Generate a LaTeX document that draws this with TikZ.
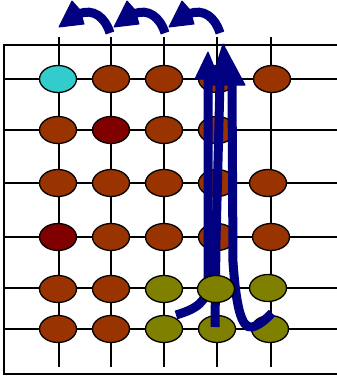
\documentclass[tikz,border=0pt]{standalone}
\usetikzlibrary{shapes.geometric}
\definecolor{brn}{HTML}{993300}
\definecolor{drd}{HTML}{800000}
\definecolor{cyn}{HTML}{33CCCC}
\definecolor{olv}{HTML}{808000}
\definecolor{nvy}{HTML}{000080}
\begin{document}
\begin{tikzpicture}[x=1pt,y=-1pt,
  gridline/.style={line width=1.6pt,black},
  bead/.style={ellipse,draw=black,line width=1.3pt,minimum width=37pt,minimum height=27pt,inner sep=0pt},
  stroke/.style={line width=9pt,nvy},
  bentstroke/.style={line width=9pt,nvy},
  head/.style={fill=nvy,draw=nvy,line width=1pt,line join=round}]
\useasboundingbox (0,0) rectangle (337,376);
% frame
\draw[gridline] (337,45) -- (4,45) -- (4,374) -- (337,374);
% horizontal lines
\foreach \y in {79,130,183,237,288,329} \draw[gridline] (4,\y) -- (337,\y);
% vertical lines
\foreach \x in {59,111,164,217,271} \draw[gridline] (\x,37) -- (\x,367);
% beads
\node[bead,fill=cyn] (b11) at (58,79) {};
\node[bead,fill=brn] (b12) at (111,79) {};
\node[bead,fill=brn] (b13) at (164,79) {};
\node[bead,fill=brn] (b14) at (217,79) {};
\node[bead,fill=brn] (b15) at (272,79) {};
\node[bead,fill=brn] (b21) at (58,130) {};
\node[bead,fill=drd] (b22) at (111,130) {};
\node[bead,fill=brn] (b23) at (164,130) {};
\node[bead,fill=brn] (b24) at (217,130) {};
\node[bead,fill=brn] (b31) at (58,183) {};
\node[bead,fill=brn] (b32) at (111,183) {};
\node[bead,fill=brn] (b33) at (164,183) {};
\node[bead,fill=brn] (b34) at (217,183) {};
\node[bead,fill=brn] (b35) at (268,183) {};
\node[bead,fill=drd] (b41) at (58,237) {};
\node[bead,fill=brn] (b42) at (111,237) {};
\node[bead,fill=brn] (b43) at (164,237) {};
\node[bead,fill=brn] (b44) at (217,237) {};
\node[bead,fill=brn] (b45) at (271,237) {};
\node[bead,fill=brn] (b51) at (58,289) {};
\node[bead,fill=brn] (b52) at (111,289) {};
\node[bead,fill=olv] (b53) at (164,289) {};
\node[bead,fill=olv] (b55) at (268,288) {};
\node[bead,fill=brn] (b61) at (58,329) {};
\node[bead,fill=brn] (b62) at (111,329) {};
\node[bead,fill=olv] (b63) at (164,329) {};
\node[bead,fill=olv] (b64) at (217,329) {};
\node[bead,fill=olv] (b65) at (270,329) {};
% vertical navy strokes
\draw[stroke] (176,315) .. controls (196,309) and (208,302) .. (208,282) -- (208,76);
\draw[stroke] (215,327) -- (216,240) -- (220,82);
\draw[stroke] (232,82) -- (233,262) .. controls (236,305) and (241,329) .. (252,327) .. controls (260,325) and (266,319) .. (272,313);
\fill[head] (208,52) -- (195,79) -- (219,79) -- cycle;
\fill[head] (223,44) -- (210,85) -- (245,85) -- cycle;
% bead drawn over the strokes
\node[bead,fill=olv] (b54) at (216,289) {};
% curved navy arrows on top
\foreach \xc in {110,165,220}{
  \draw[bentstroke] (\xc-31,14) .. controls (\xc-17,8) and (\xc-5,17) .. (\xc,33);
  \fill[head] (\xc-51,27) -- (\xc-38,1) -- (\xc-30,10) -- (\xc-26,24) -- cycle;
}
\end{tikzpicture}
\end{document}
